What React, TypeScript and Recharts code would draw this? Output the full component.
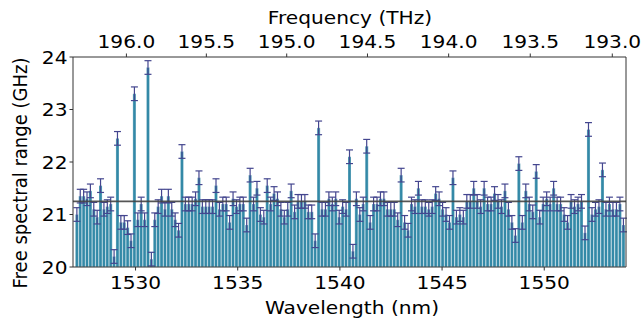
import React from 'react';
import { ComposedChart, Bar, Line, XAxis, YAxis, ErrorBar, ReferenceLine } from 'recharts';

// free spectral range per resonance, GHz (read left to right, short to long wavelength)
const fsr = [
    21.0, 21.35, 21.35, 21.3, 21.45, 21.1, 20.95, 21.55, 21.1, 21.15,
    21.2, 20.2, 22.45, 20.85, 20.85, 20.75, 20.5, 23.3, 20.9, 21.2,
    20.9, 23.8, 20.15, 20.9, 21.15, 21.35, 21.1, 21.35, 21.1, 20.9,
    20.7, 22.2, 21.2, 21.2, 21.2, 21.3, 21.7, 21.15, 21.15, 21.15,
    21.15, 21.55, 21.1, 21.2, 21.2, 20.85, 21.3, 21.15, 21.2, 21.2,
    20.8, 21.75, 21.2, 21.5, 21.0, 20.95, 21.55, 21.2, 21.4, 21.3,
    21.1, 20.95, 21.1, 21.45, 21.05, 21.25, 21.25, 21.25, 21.05, 21.05,
    20.5, 22.65, 21.1, 21.1, 21.3, 21.2, 21.3, 20.95, 21.15, 21.1,
    22.1, 20.3, 21.3, 21.0, 21.2, 22.3, 20.85, 21.2, 21.2, 21.3,
    21.3, 21.1, 21.1, 21.1, 20.9, 21.75, 20.85, 20.7, 21.2, 21.15,
    21.5, 21.15, 21.15, 21.1, 21.15, 21.4, 21.3, 21.1, 21.0, 20.85,
    21.7, 20.95, 21.0, 20.95, 21.25, 21.25, 21.5, 21.25, 21.15, 21.5,
    21.2, 21.2, 21.4, 21.25, 21.15, 21.45, 21.1, 20.85, 20.6, 21.97,
    20.85, 21.45, 21.2, 21.05, 21.82, 20.95, 21.2, 21.3, 21.2, 21.5,
    21.2, 21.2, 21.0, 20.85, 21.25, 21.15, 21.2, 21.25, 20.65, 22.62,
    21.0, 21.1, 21.15, 21.85, 21.1, 21.2, 21.1, 21.1, 21.2, 20.8,
];
const ERR = 0.13; // GHz, error bar half-height
const MEAN_FSR = 21.25; // GHz, horizontal line

const C = 299792.458; // nm*THz
const F_START = 196.31; // THz, first resonance
const wlTicks = [1530, 1535, 1540, 1545, 1550];
const freqTicks = [196.0, 195.5, 195.0, 194.5, 194.0, 193.5, 193.0];
const yTicks = [20, 21, 22, 23, 24];
const X_DOMAIN = [1526.94, 1554.0];

const data = fsr.map((v, i) => ({
    wl: C / (F_START - (i * MEAN_FSR) / 1000),
    fsr: v,
    err: ERR,
}));

const FONT = 'DejaVu Sans';
const FS = 18;
const SX = 1.12;

const Tick = ({ x, y, payload, anchor, dy, fmt }: any) => (
    <text
        transform={`translate(${x},${y}) scale(${SX},1)`}
        textAnchor={anchor}
        dy={dy}
        fontSize={FS}
        fontFamily={FONT}
        fill="#000"
    >
        {fmt(payload.value)}
    </text>
);

const HLabel = ({ x, y, text }: any) => (
    <text transform={`translate(${x},${y}) scale(${SX},1)`} textAnchor="middle" fontSize={FS} fontFamily={FONT} fill="#000">
        {text}
    </text>
);

export default function App() {
    return (
        <div style={{ position: 'absolute', left: 0, top: 0, background: '#fff' }}>
            <ComposedChart width={642} height={321} data={data} margin={{ top: 0, right: 16, left: 0, bottom: 0 }}>
                <XAxis
                    xAxisId="bottom"
                    dataKey="wl"
                    type="number"
                    domain={X_DOMAIN}
                    allowDataOverflow
                    ticks={wlTicks}
                    interval={0}
                    height={54}
                    tickSize={3.5}
                    tickMargin={2}
                    stroke="#333"
                    tick={(p: any) => <Tick {...p} anchor="middle" dy={17} fmt={(v: number) => v} />}
                    label={{ content: () => <HLabel x={352} y={314} text="Wavelength (nm)" /> }}
                />
                <XAxis
                    xAxisId="top"
                    orientation="top"
                    dataKey="wl"
                    type="number"
                    domain={X_DOMAIN}
                    allowDataOverflow
                    ticks={freqTicks.map((f) => C / f)}
                    interval={0}
                    height={57}
                    tickSize={3.5}
                    tickMargin={2}
                    stroke="#333"
                    tick={(p: any) => <Tick {...p} anchor="middle" dy={-3.8} fmt={(v: number) => (C / v).toFixed(1)} />}
                    label={{ content: () => <HLabel x={350} y={24} text="Frequency (THz)" /> }}
                />
                <YAxis
                    domain={[20, 24]}
                    ticks={yTicks}
                    interval={0}
                    width={73}
                    tickSize={3.5}
                    tickMargin={2}
                    stroke="#333"
                    tick={(p: any) => <Tick {...p} anchor="end" dy={6.5} fmt={(v: number) => v} />}
                    label={{
                        content: () => (
                            <text
                                transform={`translate(27,173) scale(${SX},1) rotate(-90)`}
                                textAnchor="middle"
                                fontSize={FS}
                                fontFamily={FONT}
                                fill="#000"
                            >
                                Free spectral range (GHz)
                            </text>
                        ),
                    }}
                />
                <Bar
                    xAxisId="bottom"
                    dataKey="fsr"
                    fill="#3389a7"
                    stroke="#ffffff"
                    strokeOpacity={0.75}
                    strokeWidth={0.4}
                    barSize={3.45}
                    isAnimationActive={false}
                >
                    <ErrorBar dataKey="err" width={3.5} stroke="#44468f" strokeWidth={1.2} />
                </Bar>
                <Line
                    xAxisId="top"
                    dataKey="fsr"
                    stroke="none"
                    dot={false}
                    activeDot={false}
                    legendType="none"
                    isAnimationActive={false}
                />
                <ReferenceLine xAxisId="bottom" y={MEAN_FSR} stroke="#444" strokeOpacity={0.9} strokeWidth={1.7} />
                <ReferenceLine xAxisId="bottom" x={X_DOMAIN[1]} stroke="#333" ifOverflow="visible" />
            </ComposedChart>
        </div>
    );
}
